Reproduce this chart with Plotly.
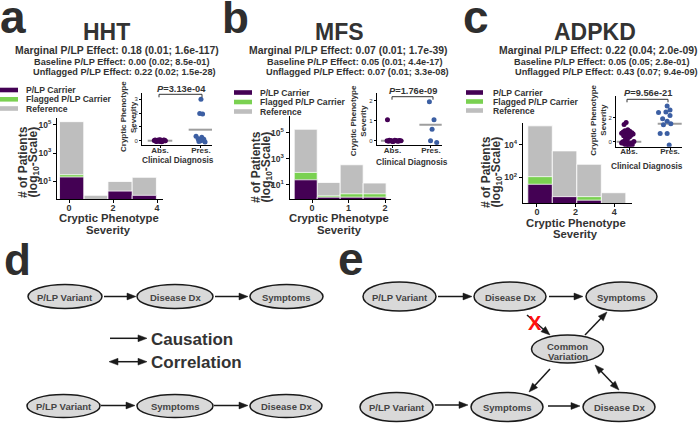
import math
import plotly.graph_objects as go

W, H = 699, 424
FONT = "Liberation Sans, Arial, Helvetica, sans-serif"
INK = "#333333"
PURPLE = "#440154"
GREEN = "#7AD151"
GREY = "#BEBEBE"
BLUE = "#3C5FA3"
MEDIAN = "#9E9E9E"

# ---------------- data: histograms (bar tops, # of patients) ----------------
a_bin_centers = [0.12, 1.22, 2.32, 3.42]
a_reference = [166000, 1.0, 9.5, 19.0]
a_flagged = [29.0, None, None, None]
a_carrier = [20.0, None, 2.0, 1.0]

b_bin_centers = [-0.175, 0.455, 1.085, 1.715]
b_reference = [190000, 15.0, 346.0, 13.5]
b_flagged = [89.0, 1.4, 2.0, 2.0]
b_carrier = [24.0, 1.1, 1.1, 1.1]

c_bin_centers = [0.16, 1.43, 2.70, 3.97]
c_reference = [150000, 4300.0, 650.0, 11.5]
c_flagged = [112.0, None, 6.6, None]
c_carrier = [38.0, 6.6, 4.0, None]

bin_widths = [1.1, 0.63, 1.27]

# ---------------- data: insets (severity by clinical diagnosis) ----------------
diag_labels = ["Abs.", "Pres."]

a_abs_x = [0.86, 0.9, 0.94, 0.97, 1.0, 1.03, 1.06, 1.1, 1.13, 0.88, 0.92, 0.96, 1.01, 1.05, 1.09, 1.12, 0.9, 0.98, 1.04, 1.08]
a_abs_y = [0.02, -0.03, 0.04, 0.0, -0.05, 0.03, -0.02, 0.05, 0.0, 0.06, -0.06, 0.01, 0.05, -0.04, 0.02, -0.01, 0.0, 0.07, -0.07, 0.03]
a_pres_x = [2.0, 1.97, 2.04, 1.88, 1.93, 1.97, 2.02, 2.07, 1.95, 2.1, 2.0]
a_pres_y = [3.0, 1.98, 1.93, 0.32, 0.15, 0.05, 0.25, 0.1, -0.05, -0.1, 0.0]
a_mid = [0.0, 0.8]

b_abs_x = [0.87, 0.86, 0.9, 0.94, 0.98, 1.02, 1.06, 1.1, 1.14, 1.18, 1.22, 0.92, 1.0, 1.08, 1.16]
b_abs_y = [1.05, 0.0, -0.02, 0.02, 0.0, -0.03, 0.03, 0.0, -0.02, 0.02, 0.0, 0.03, -0.03, 0.01, -0.01]
b_pres_x = [1.96, 2.08, 2.03, 1.99, 2.15]
b_pres_y = [1.95, 1.05, 0.57, 0.0, -0.08]
b_mid = [0.0, 0.8]

c_abs_x = [0.93, 0.88, 0.97, 0.9, 1.02, 0.86, 0.95, 1.07, 0.82, 1.0, 1.1, 0.9, 0.98, 1.05, 0.87,
           0.94, 1.01, 0.92, 0.96, 0.9, 0.85, 0.95, 1.05, 0.88, 0.98, 1.08, 0.92, 1.0, 0.82, 1.12]
c_abs_y = [1.62, 1.45, 1.0, 0.92, 0.88, 0.82, 0.78, 0.75, 0.72, 0.7, 0.66, 0.62, 0.6, 0.55, 0.5,
           0.46, 0.4, 0.3, 0.18, 0.08, 0.0, -0.05, -0.1, -0.15, -0.2, -0.24, -0.28, -0.3, -0.1, 0.02]
c_pres_x = [1.93, 2.0, 1.72, 1.9, 2.0, 1.82, 1.93, 2.02, 1.84, 1.76, 1.93, 1.98]
c_pres_y = [3.0, 2.65, 2.46, 2.5, 2.19, 1.92, 1.72, 1.5, 1.43, 0.69, 0.69, -0.27]
c_mid = [0.0, 1.5]

# ---------------- text ----------------
panel_titles = ["HHT", "MFS", "ADPKD"]
marginal_txt = ["Marginal P/LP Effect: 0.18 (0.01; 1.6e-117)",
                "Marginal P/LP Effect: 0.07 (0.01; 1.7e-39)",
                "Marginal P/LP Effect: 0.22 (0.04; 2.0e-09)"]
baseline_txt = ["Baseline P/LP Effect: 0.00 (0.02; 8.5e-01)",
                "Baseline P/LP Effect: 0.05 (0.01; 4.4e-17)",
                "Baseline P/LP Effect: 0.05 (0.05; 2.8e-01)"]
unflagged_txt = ["Unflagged P/LP Effect: 0.22 (0.02; 1.5e-28)",
                 "Unflagged P/LP Effect: 0.07 (0.01; 3.3e-08)",
                 "Unflagged P/LP Effect: 0.43 (0.07; 9.4e-09)"]
p_values = ["3.13e-04", "1.76e-09", "9.56e-21"]
legend_names = ["P/LP Carrier", "Flagged P/LP Carrier", "Reference"]
legend_colors = [PURPLE, GREEN, GREY]


def xd(p0, p1):
    return [p0 / W, p1 / W]


def yd(top, bottom):
    return [1 - bottom / H, 1 - top / H]


fig = go.Figure()

# ---- histogram bars ----
hist = [
    (a_bin_centers, a_reference, a_flagged, a_carrier, "x", "y"),
    (b_bin_centers, b_reference, b_flagged, b_carrier, "x2", "y2"),
    (c_bin_centers, c_reference, c_flagged, c_carrier, "x3", "y3"),
]
for i, (cx, ref, flg, car, xa, ya) in enumerate(hist):
    for vals, col in [(ref, GREY), (flg, GREEN), (car, PURPLE)]:
        fig.add_trace(go.Bar(x=cx, y=vals, width=bin_widths[i], xaxis=xa, yaxis=ya,
                             marker=dict(color=col, line=dict(color="white", width=0.8)),
                             showlegend=False, hoverinfo="skip"))

# ---- insets ----
insets = [
    (a_abs_x, a_abs_y, a_pres_x, a_pres_y, a_mid, "x4", "y4"),
    (b_abs_x, b_abs_y, b_pres_x, b_pres_y, b_mid, "x5", "y5"),
    (c_abs_x, c_abs_y, c_pres_x, c_pres_y, c_mid, "x6", "y6"),
]
for ax_, ay_, px_, py_, mid, xa, ya in insets:
    for k, m in enumerate(mid):
        cat = k + 1
        fig.add_trace(go.Scatter(x=[cat - 0.3, cat + 0.3], y=[m, m], mode="lines",
                                 line=dict(color=MEDIAN, width=2), xaxis=xa, yaxis=ya,
                                 showlegend=False, hoverinfo="skip"))
    fig.add_trace(go.Scatter(x=ax_, y=ay_, mode="markers", marker=dict(color=PURPLE, size=5),
                             xaxis=xa, yaxis=ya, showlegend=False, hoverinfo="skip"))
    fig.add_trace(go.Scatter(x=px_, y=py_, mode="markers", marker=dict(color=BLUE, size=5),
                             xaxis=xa, yaxis=ya, showlegend=False, hoverinfo="skip"))

axis_base = dict(showline=True, linecolor="black", linewidth=1, ticks="outside", ticklen=3,
                 tickwidth=1, tickcolor="black", showgrid=False, zeroline=False, fixedrange=True,
                 tickfont=dict(family=FONT, size=9, color=INK, weight="bold"))


def ax(**kw):
    d = dict(axis_base)
    d.update(kw)
    return d


logticks = [10, 1000, 100000]
logtext = ["10<sup>1</sup>", "10<sup>3</sup>", "10<sup>5</sup>"]
logfont = dict(family=FONT, size=8.5, color=INK, weight="bold")
inset_x = dict(tickvals=[1, 2], ticktext=diag_labels,
               tickfont=dict(family=FONT, size=8, color=INK, weight="bold"), ticklen=2,
               ticklabelstandoff=-5)
inset_yfont = dict(family=FONT, size=6, color=INK)

fig.update_layout(
    width=W, height=H, margin=dict(l=0, r=0, t=0, b=0),
    paper_bgcolor="white", plot_bgcolor="rgba(0,0,0,0)",
    barmode="overlay", showlegend=False,
    xaxis=ax(domain=xd(57, 163), range=[-0.545, 4.27], tickvals=[0, 2, 4], anchor="y",
             ticklabelstandoff=-3),
    yaxis=ax(domain=yd(118, 199), type="log", range=[-0.26, 5.48], tickvals=logticks,
             ticktext=logtext, tickfont=logfont, anchor="x"),
    xaxis2=ax(domain=xd(289.5, 390.5), range=[-0.62, 2.15], tickvals=[0, 1, 2], anchor="y2",
              ticklabelstandoff=-3),
    yaxis2=ax(domain=yd(116, 199), type="log", range=[-0.1, 6.3], tickvals=logticks,
              ticktext=logtext, tickfont=logfont, anchor="x2"),
    xaxis3=ax(domain=xd(522.7, 631.7), range=[-0.74, 4.91], tickvals=[0, 2, 4], anchor="y3",
              ticklabelstandoff=-3),
    yaxis3=ax(domain=yd(123, 203.3), type="log", range=[0.41, 5.35], tickvals=[100, 10000],
              ticktext=["10<sup>2</sup>", "10<sup>4</sup>"], tickfont=logfont, anchor="x3"),
    xaxis4=ax(domain=xd(142, 212), range=[0.56, 2.27], anchor="y4", **inset_x),
    yaxis4=ax(domain=yd(93, 145), range=[-0.31, 3.46], tickvals=[0, 1, 2, 3], anchor="x4",
              tickfont=inset_yfont, ticklen=2),
    xaxis5=ax(domain=xd(376.7, 441.7), range=[0.59, 2.28], anchor="y5", **inset_x),
    yaxis5=ax(domain=yd(93, 145), range=[-0.21, 2.38], tickvals=[0, 1, 2], anchor="x5",
              tickfont=inset_yfont, ticklen=2),
    xaxis6=ax(domain=xd(616, 681.7), range=[0.683, 2.285], anchor="y6", **inset_x),
    yaxis6=ax(domain=yd(96, 146.7), range=[-0.41, 3.83], tickvals=[0, 2], anchor="x6",
              tickfont=inset_yfont, ticklen=2),
    xaxis7=dict(domain=[0, 1], range=[0, W], visible=False, fixedrange=True, anchor="y7"),
    yaxis7=dict(domain=[0, 1], range=[H, 0], visible=False, fixedrange=True, anchor="x7"),
)

ann = []
shapes = []


def T(x, y, text, size, color=INK, xa="center", ya="middle", angle=0):
    ann.append(dict(x=x, y=y, xref="x7", yref="y7", text=text, showarrow=False,
                    font=dict(family=FONT, size=size, color=color), xanchor=xa, yanchor=ya,
                    textangle=angle, borderpad=0))


ARROW = "#1a1a1a"


def head(xt, yt, ux, uy, L=9.0, hw=3.4):
    bx, by = xt - ux * L, yt - uy * L
    px, py = -uy * hw, ux * hw
    shapes.append(dict(type="path", xref="x7", yref="y7",
                       path="M%.2f,%.2f L%.2f,%.2f L%.2f,%.2f Z" % (xt, yt, bx + px, by + py, bx - px, by - py),
                       fillcolor=ARROW, line=dict(color=ARROW, width=0.5)))


def A(x0, y0, x1, y1, both=False):
    dx, dy = x1 - x0, y1 - y0
    d = math.hypot(dx, dy)
    ux, uy = dx / d, dy / d
    L = 8.0
    sx0 = x0 + ux * L if both else x0
    sy0 = y0 + uy * L if both else y0
    shapes.append(dict(type="line", xref="x7", yref="y7", x0=sx0, y0=sy0,
                       x1=x1 - ux * L, y1=y1 - uy * L, line=dict(color=ARROW, width=1.5)))
    head(x1, y1, ux, uy)
    if both:
        head(x0, y0, -ux, -uy)


# panel letters
for lx, ly, s, fs in [(12.5, 17, "a", 46), (235, 17, "b", 44), (476, 17, "c", 46),
                      (17.5, 259, "d", 44), (350.5, 259, "e", 46)]:
    T(lx, ly, "<b>%s</b>" % s, fs, color="#2e2e2e")

title_x = [106.5, 339, 595]
marg_x = [117, 347.5, 598]
base_x = [122, 354.5, 602]
unfl_x = [124, 357.5, 606.5]
for i in range(3):
    T(title_x[i], 31.5, "<b>%s</b>" % panel_titles[i], 23)
    T(marg_x[i], 50, "<b>%s</b>" % marginal_txt[i], 10.4)
    T(base_x[i], 61.5, "<b>%s</b>" % baseline_txt[i], 9.2)
    T(unfl_x[i], 71.5, "<b>%s</b>" % unflagged_txt[i], 9.2)

# legends
leg_sw = [(0, 18), (234, 252), (466, 483)]
leg_tx = [25, 259, 492]
leg_rows = [[90, 99.3, 108.5], [92.5, 102, 111.5], [92.5, 101.5, 110.5]]
for i in range(3):
    for j in range(3):
        yy = leg_rows[i][j]
        shapes.append(dict(type="rect", xref="x7", yref="y7", x0=leg_sw[i][0], x1=leg_sw[i][1],
                           y0=yy - 2.3, y1=yy + 2.3, fillcolor=legend_colors[j], line=dict(width=0)))
        T(leg_tx[i], yy, "<b>%s</b>" % legend_names[j], 8.6, xa="left")

# main axis titles
xt_x = [108.5, 339, 575.5]
xt_y = [(218, 229.5), (218, 229.5), (222.5, 234)]
yt = [(23, 33.5, 162), (256, 266.5, 167), (486, 496.5, 172)]
for i in range(3):
    T(xt_x[i], xt_y[i][0], "<b>Cryptic Phenotype</b>", 11.3)
    T(xt_x[i], xt_y[i][1], "<b>Severity</b>", 11.3)
    T(yt[i][0], yt[i][2], "<b># of Patients</b>", 12, angle=-90)
    T(yt[i][1], yt[i][2], "<b>(log<sub>10</sub>-Scale)</b>", 12, angle=-90)

# inset titles
it = [(123, 133, 117, 178, 160), (353.3, 362.7, 121, 411.7, 162), (592.7, 602.7, 120, 646.7, 166)]
for i in range(3):
    T(it[i][0], it[i][2], "<b>Cryptic Phenotype</b>", 8, angle=-90)
    T(it[i][1], it[i][2], "<b>Severity</b>", 8, angle=-90)
    T(it[i][3], it[i][4], "<b>Clinical Diagnosis</b>", 8.3)

# p-value brackets
pv = [(181, 89.3, 159, 202, 94.3), (413, 90.7, 392, 433, 96.7), (647.5, 92.8, 627, 668, 99.3)]
for i in range(3):
    tx, ty, bx0, bx1, by = pv[i]
    T(tx, ty, "<b><i>P</i>=%s</b>" % p_values[i], 9.3)
    shapes.append(dict(type="path", xref="x7", yref="y7",
                       path="M%s,%s L%s,%s L%s,%s L%s,%s" % (bx0, by + 3, bx0, by, bx1, by, bx1, by + 3),
                       line=dict(color=INK, width=1)))

# ---- causal diagrams ----
ELL_FILL = "#D9D9D9"
ELL_TXT = "#444444"


def E(cx, cy, rx, ry, label):
    shapes.append(dict(type="circle", xref="x7", yref="y7", x0=cx - rx, x1=cx + rx, y0=cy - ry,
                       y1=cy + ry, fillcolor=ELL_FILL, line=dict(color="#1a1a1a", width=1.5)))
    if label:
        T(cx, cy + 0.5, "<b>%s</b>" % label, 9.5, color=ELL_TXT)


# panel d
E(65, 296.5, 37, 12, "P/LP Variant")
E(175, 296.5, 38, 12, "Disease Dx")
E(286.5, 296.5, 36.5, 12, "Symptoms")
E(63.5, 406, 36.5, 11.5, "P/LP Variant")
E(175, 406, 38, 11.5, "Symptoms")
E(286, 406, 36, 11.5, "Disease Dx")
A(104, 296.5, 136, 296.5)
A(215, 296.5, 248, 296.5)
A(101, 405.5, 135, 405.5)
A(214, 405.5, 248, 405.5)
A(110, 338.3, 147, 338.3)
A(109, 361.7, 147, 361.7, both=True)
T(150, 339, "<b>Causation</b>", 17, xa="left")
T(150, 362.5, "<b>Correlation</b>", 17, xa="left")

# panel e
E(399.5, 296.5, 36.5, 14.5, "P/LP Variant")
E(510, 296.5, 36, 14.5, "Disease Dx")
E(621.5, 296.5, 35.5, 14.5, "Symptoms")
E(567.5, 349, 36, 14, None)
T(567.5, 346.5, "<b>Common</b>", 9.5, color=ELL_TXT)
T(567.5, 356, "<b>Variation</b>", 9.5, color=ELL_TXT)
E(396.5, 407, 36.5, 14.5, "P/LP Variant")
E(507, 407, 36, 14.5, "Symptoms")
E(619, 407, 36, 14.5, "Disease Dx")
A(438, 296.5, 472, 296.5)
A(549, 296.5, 583, 296.5)
A(435, 405, 468, 405)
A(548, 406, 580, 406)
A(527, 315, 550, 335)
A(585, 335, 607, 312)
A(550, 369, 529, 392)
A(595, 365, 619, 390, both=True)
T(535, 323, "<b>X</b>", 20, color="#FF1010")

fig.update_layout(annotations=ann, shapes=shapes)
fig.write_html("out.html", config={"displayModeBar": False},
               post_script="document.body.style.margin='0';document.body.style.padding='0';")
